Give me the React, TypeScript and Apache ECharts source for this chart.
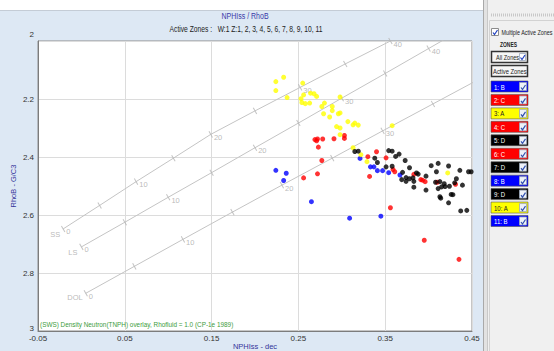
import React, { useEffect, useRef } from 'react';
import * as echarts from 'echarts';

const FONT = '"Liberation Sans", Arial, sans-serif';

// ---- axis ----
const X_MIN = -0.05;
const X_MAX = 0.45;
const X_STEP = 0.1;
const Y_MIN = 2;
const Y_MAX = 3;
const Y_STEP = 0.2;

// ---- overlay lines (NPHI, RhoB) at porosity ticks ----
const porosityTicks = [0, 5, 10, 15, 20, 25, 30, 35, 40, 45];
const ssNphi = [-0.021, 0.021, 0.063, 0.106, 0.149, 0.2, 0.252, 0.304, 0.356];
const ssRhob = [2.648, 2.567, 2.485, 2.404, 2.322, 2.241, 2.16, 2.079, 2.0];
const lsNphi = [0.0, 0.05, 0.1, 0.15, 0.2, 0.25, 0.3, 0.35, 0.4, 0.45];
const lsRhob = [2.71, 2.625, 2.539, 2.454, 2.368, 2.283, 2.197, 2.112, 2.026, 1.94];
const dolNphi = [0.005, 0.061, 0.117, 0.174, 0.231, 0.289, 0.347, 0.405, 0.463];
const dolRhob = [2.87, 2.777, 2.684, 2.59, 2.497, 2.404, 2.31, 2.217, 2.124];

// ---- zone points [NPHIss, RhoB] ----
const zoneA: number[][] = [
  [0.224, 2.14], [0.233, 2.125], [0.224, 2.171], [0.237, 2.195], [0.255, 2.145],
  [0.253, 2.199], [0.256, 2.186], [0.254, 2.212], [0.258, 2.216], [0.264, 2.18],
  [0.268, 2.182], [0.271, 2.191], [0.263, 2.214], [0.28, 2.214], [0.277, 2.226],
  [0.279, 2.251], [0.286, 2.262], [0.289, 2.226], [0.289, 2.24], [0.296, 2.251],
  [0.298, 2.248], [0.298, 2.193], [0.307, 2.278], [0.313, 2.289], [0.315, 2.283],
  [0.319, 2.29], [0.294, 2.295], [0.298, 2.3], [0.298, 2.323], [0.358, 2.292],
  [0.313, 2.368], [0.322, 2.392], [0.329, 2.416], [0.422, 2.455],
];
const zoneB: number[][] = [
  [0.224, 2.446], [0.236, 2.456], [0.233, 2.481], [0.265, 2.554], [0.309, 2.611],
  [0.345, 2.604], [0.321, 2.405], [0.333, 2.434], [0.337, 2.434], [0.341, 2.447],
  [0.347, 2.447], [0.354, 2.454], [0.367, 2.462],
];
const zoneC: number[][] = [
  [0.269, 2.34], [0.271, 2.344], [0.272, 2.338], [0.278, 2.338], [0.273, 2.366],
  [0.291, 2.337], [0.303, 2.326], [0.303, 2.336], [0.277, 2.412], [0.256, 2.472],
  [0.272, 2.458], [0.34, 2.382], [0.33, 2.399], [0.351, 2.403], [0.332, 2.467],
  [0.359, 2.443], [0.361, 2.451], [0.383, 2.46], [0.391, 2.478], [0.393, 2.48],
  [0.396, 2.485], [0.431, 2.494], [0.356, 2.575], [0.395, 2.687], [0.435, 2.753],
  [0.41, 2.487],
];
const zoneD: number[][] = [
  [0.315, 2.381], [0.319, 2.38], [0.338, 2.404], [0.341, 2.419], [0.354, 2.378],
  [0.358, 2.38], [0.362, 2.398], [0.366, 2.39], [0.351, 2.434], [0.358, 2.432],
  [0.373, 2.412], [0.378, 2.437], [0.37, 2.453], [0.369, 2.478], [0.374, 2.471],
  [0.374, 2.484], [0.378, 2.475], [0.382, 2.472], [0.383, 2.484], [0.383, 2.504],
  [0.386, 2.455], [0.388, 2.459], [0.397, 2.466], [0.397, 2.514], [0.403, 2.43],
  [0.411, 2.422], [0.409, 2.451], [0.408, 2.487], [0.413, 2.485], [0.411, 2.509],
  [0.415, 2.503], [0.418, 2.492], [0.419, 2.502], [0.413, 2.537], [0.414, 2.542],
  [0.423, 2.431], [0.424, 2.501], [0.426, 2.529], [0.428, 2.53], [0.423, 2.558],
  [0.43, 2.489], [0.432, 2.475], [0.436, 2.446], [0.439, 2.497], [0.437, 2.586],
  [0.444, 2.584], [0.446, 2.451], [0.449, 2.451],
];

// ---- zone panel ----
const zoneLabels = ['1: B', '2: C', '3: A', '4: C', '5: D', '6: C', '7: D', '8: B', '9: D', '10: A', '11: B'];
const groupColors: Record<string, string> = { A: '#ffff00', B: '#0000ff', C: '#ff0000', D: '#000000' };

const LINE_GRAY = '#c4c4c4';
const LABEL_GRAY = '#a8a8a8';

function checkMark(x: number, y: number, color: string) {
  return {
    type: 'polyline',
    silent: true,
    shape: { points: [[x + 1.5, y + 4], [x + 3, y + 6], [x + 6, y + 1.5]] },
    style: { stroke: color, lineWidth: 1.2, fill: null },
    z: 12,
  };
}

function txt(x: number, y: number, text: string, size: number, color: string, sx: number, extra: any = {}) {
  return {
    type: 'text',
    x,
    y,
    scaleX: sx,
    silent: true,
    style: { text, font: `${extra.bold ? 'bold ' : ''}${size}px ${FONT}`, fill: color, textVerticalAlign: 'middle', textAlign: extra.align || 'left' },
    z: extra.z || 11,
  };
}

function buildGraphics() {
  const g: any[] = [];
  g.push({ type: 'rect', shape: { x: 0, y: 0, width: 554, height: 10 }, style: { fill: '#ffffff' }, z: 1 });
  g.push({ type: 'line', shape: { x1: 0, y1: 10.5, x2: 483, y2: 10.5 }, style: { stroke: '#c4ccd6', lineWidth: 1 }, z: 2 });
  g.push({ type: 'rect', shape: { x: 483, y: 0, width: 71, height: 351 }, style: { fill: '#f0f0f0' }, z: 1 });
  g.push({ type: 'rect', shape: { x: 483, y: 0, width: 5, height: 351 }, style: { fill: '#e2e2e2' }, z: 2 });
  g.push({ type: 'line', shape: { x1: 483.5, y1: 0, x2: 483.5, y2: 351 }, style: { stroke: '#a9a9a9', lineWidth: 1 }, z: 3 });
  g.push({ type: 'line', shape: { x1: 487.5, y1: 0, x2: 487.5, y2: 351 }, style: { stroke: '#c8c8c8', lineWidth: 1 }, z: 3 });
  g.push({ type: 'line', shape: { x1: 491, y1: 15, x2: 554, y2: 15 }, style: { stroke: '#c8c8c8', lineWidth: 3, lineDash: [1, 1] }, z: 3 });
  g.push({ type: 'rect', shape: { x: 489.5, y: 20.5, width: 70, height: 340 }, style: { fill: null, stroke: '#d2d2d2', lineWidth: 1 }, z: 3 });
  // multiple active zones checkbox
  g.push({ type: 'rect', shape: { x: 491.5, y: 28.5, width: 7, height: 7 }, style: { fill: '#ffffff', stroke: '#8c8c8c', lineWidth: 1 }, z: 10 });
  g.push(checkMark(491.5, 28.5, '#2040c0'));
  g.push(txt(501.5, 32, 'Multiple Active Zones', 7.5, '#222', 0.72));
  g.push(txt(500, 45, 'ZONES', 6.5, '#222', 0.76, { bold: true }));
  // buttons
  g.push({ type: 'rect', shape: { x: 491.5, y: 51.5, width: 36, height: 11 }, style: { fill: '#f6f6f6', stroke: '#333', lineWidth: 1.5 }, z: 10 });
  g.push(txt(496, 57, 'All Zones', 7.5, '#222', 0.74));
  g.push({ type: 'rect', shape: { x: 519.5, y: 53.5, width: 6, height: 7 }, style: { fill: '#ffffff', stroke: '#9aa6b8', lineWidth: 0.8 }, z: 11 });
  g.push(checkMark(519, 53.5, '#2040c0'));
  g.push({ type: 'rect', shape: { x: 491.5, y: 65.5, width: 36, height: 11 }, style: { fill: '#f6f6f6', stroke: '#333', lineWidth: 1.5 }, z: 10 });
  g.push(txt(493, 71, 'Active Zones', 7.5, '#222', 0.78));
  // zone rows
  zoneLabels.forEach((lab, i) => {
    const grp = lab.split(': ')[1];
    const col = groupColors[grp];
    const y0 = 81 + i * 13.45;
    g.push({ type: 'rect', shape: { x: 491, y: y0, width: 37, height: 11 }, style: { fill: col, stroke: '#555', lineWidth: 0.6 }, z: 10 });
    g.push(txt(494, y0 + 5.8, lab, 7.5, grp === 'A' ? '#222' : '#ffffff', 0.8));
    g.push({ type: 'rect', shape: { x: 519.5, y: y0 + 1.5, width: 7, height: 8 }, style: { fill: '#eef2f8', stroke: '#9aa6b8', lineWidth: 0.8 }, z: 11 });
    g.push(checkMark(519.5, y0 + 2.5, '#3050b0'));
  });
  // titles
  g.push(txt(245, 16, 'NPHIss / RhoB', 9, '#3a3aa8', 0.78, { align: 'center' }));
  g.push(txt(246, 29, 'Active Zones :   W:1 Z:1, 2, 3, 4, 5, 6, 7, 8, 9, 10, 11', 8.5, '#222', 0.79, { align: 'center' }));
  g.push(txt(40, 324, '(SWS) Density Neutron(TNPH) overlay, Rhofluid = 1.0 (CP-1e 1989)', 8, '#3c9c3c', 0.8, { z: 20 }));
  return g;
}

function lithSeries(name: string, nphi: number[], rhob: number[], angle: number) {
  const pts = nphi.map((x, i) => [x, rhob[i]]);
  return [
    {
      name: name + ' line',
      type: 'line',
      data: pts,
      showSymbol: false,
      symbol: 'none',
      clip: true,
      silent: true,
      lineStyle: { color: LINE_GRAY, width: 1 },
      z: 1,
    },
    {
      name: name + ' ticks',
      type: 'scatter',
      data: pts,
      symbol: 'rect',
      symbolSize: [1, 7],
      symbolRotate: angle,
      clip: true,
      silent: true,
      itemStyle: { color: '#b4b4b4' },
      label: {
        show: true,
        position: 'right',
        distance: 1,
        offset: [0, 3],
        fontSize: 7.5,
        fontFamily: FONT,
        color: LABEL_GRAY,
        formatter: (p: any) => (porosityTicks[p.dataIndex] % 10 === 0 ? String(porosityTicks[p.dataIndex]) : ''),
      },
      z: 2,
    },
  ];
}

const App: React.FC = () => {
  const ref = useRef<HTMLDivElement>(null);
  useEffect(() => {
    if (!ref.current) return;
    const chart = echarts.init(ref.current, undefined, { renderer: 'svg', width: 554, height: 351 });
    const zoneSeries = [
      { name: 'C', data: zoneC, color: groupColors.C },
      { name: 'B', data: zoneB, color: groupColors.B },
      { name: 'A', data: zoneA, color: groupColors.A },
      { name: 'D', data: zoneD, color: groupColors.D },
    ].map((s) => ({
      name: s.name,
      type: 'scatter',
      data: s.data,
      symbol: 'circle',
      symbolSize: 5,
      itemStyle: { color: s.color },
      z: 5,
    }));
    const option: any = {
      animation: false,
      backgroundColor: '#dde8f4',
      textStyle: { fontFamily: FONT },
      grid: {
        left: 38,
        top: 41,
        right: 82,
        bottom: 20,
        show: true,
        backgroundColor: '#ffffff',
        borderColor: '#8c8c8c',
        borderWidth: 1,
        containLabel: false,
        outerBoundsMode: 'none',
      },
      xAxis: {
        type: 'value',
        min: X_MIN,
        max: X_MAX,
        interval: X_STEP,
        name: 'NPHIss - dec',
        nameLocation: 'middle',
        nameGap: 11,
        nameMoveOverlap: false,
        nameTextStyle: { color: '#34349a', fontSize: 7.5, fontFamily: FONT },
        axisLine: { show: true, onZero: false, lineStyle: { color: '#7c7c7c' } },
        axisTick: { show: false },
        splitLine: { show: true, lineStyle: { color: '#dcdcdc', width: 1 } },
        axisLabel: {
          margin: 3,
          fontSize: 8,
          fontFamily: FONT,
          color: '#333',
          formatter: (v: number) => v.toFixed(2),
        },
      },
      yAxis: {
        type: 'value',
        inverse: true,
        min: Y_MIN,
        max: Y_MAX,
        interval: Y_STEP,
        name: 'RhoB - G/C3',
        nameLocation: 'middle',
        nameRotate: 90,
        nameGap: 21,
        nameMoveOverlap: false,
        nameTextStyle: { color: '#34349a', fontSize: 7.5, fontFamily: FONT },
        axisLine: { show: true, onZero: false, lineStyle: { color: '#7c7c7c' } },
        axisTick: { show: false },
        splitLine: { show: true, lineStyle: { color: '#dcdcdc', width: 1 } },
        axisLabel: {
          margin: 4,
          fontSize: 8,
          fontFamily: FONT,
          color: '#333',
          formatter: (v: number) => {
            const s = String(Math.round(v * 10) / 10);
            if (v === Y_MIN) return '{t|' + s + '}';
            if (v === Y_MAX) return '{b|' + s + '}';
            return s;
          },
          rich: {
            t: { fontSize: 8, fontFamily: FONT, color: '#333', padding: [0, 0, 13, 0] },
            b: { fontSize: 8, fontFamily: FONT, color: '#333', padding: [0, 0, 6, 0] },
          },
        },
      },
      graphic: buildGraphics(),
      series: [
        ...lithSeries('SS', ssNphi, ssRhob, 30),
        ...lithSeries('LS', lsNphi, lsRhob, 30),
        ...lithSeries('DOL', dolNphi, dolRhob, 29),
        {
          name: 'lith names',
          type: 'scatter',
          silent: true,
          symbolSize: 0,
          data: [
            { value: [ssNphi[0], ssRhob[0]], label: { formatter: 'SS', position: [-3, 6] } },
            { value: [lsNphi[0], lsRhob[0]], label: { formatter: 'LS', position: [-4, 6] } },
            { value: [dolNphi[0], dolRhob[0]], label: { formatter: 'DOL', position: [-3, 4] } },
          ],
          label: { show: true, align: 'right', verticalAlign: 'middle', fontSize: 7.5, fontFamily: FONT, color: LABEL_GRAY },
          z: 2,
        },
        ...zoneSeries,
      ],
    };
    chart.setOption(option);
    return () => chart.dispose();
  }, []);
  return <div ref={ref} style={{ position: 'fixed', left: 0, top: 0, width: 554, height: 351 }} />;
};

export default App;
